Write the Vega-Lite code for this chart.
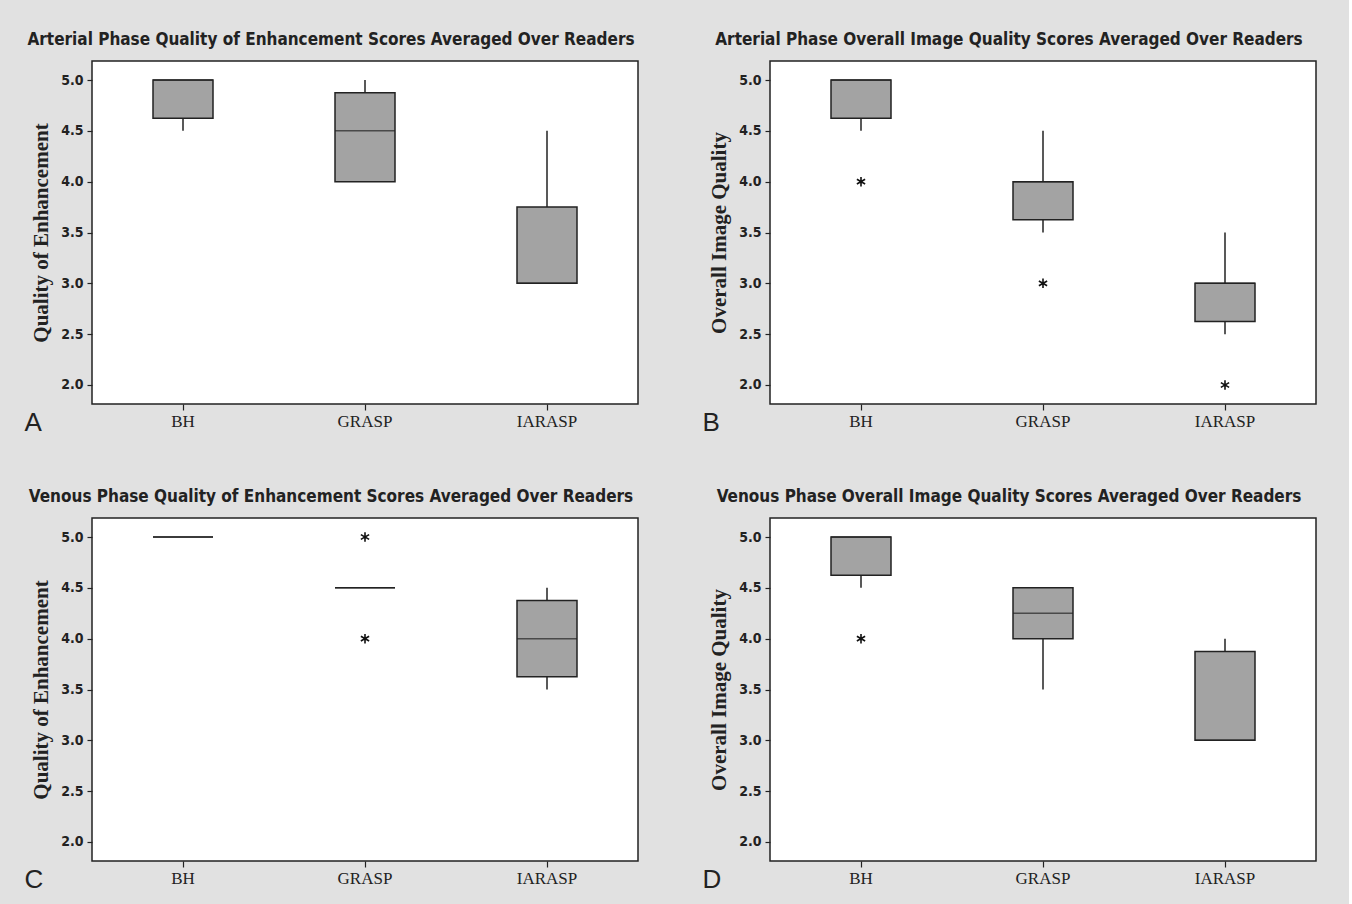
{
  "$schema": "https://vega.github.io/schema/vega-lite/v6.json",
  "padding": {"left": 23, "top": 30, "right": 32, "bottom": 20},
  "datasets": {
    "boxes": [
      {"panel": "A", "group": "BH", "lower": 4.5, "q1": 4.625, "median": 5.0, "q3": 5.0, "upper": 5.0},
      {"panel": "A", "group": "GRASP", "lower": 4.0, "q1": 4.0, "median": 4.5, "q3": 4.875, "upper": 5.0},
      {"panel": "A", "group": "IARASP", "lower": 3.0, "q1": 3.0, "median": 3.0, "q3": 3.75, "upper": 4.5},
      {"panel": "B", "group": "BH", "lower": 4.5, "q1": 4.625, "median": 5.0, "q3": 5.0, "upper": 5.0},
      {"panel": "B", "group": "GRASP", "lower": 3.5, "q1": 3.625, "median": 4.0, "q3": 4.0, "upper": 4.5},
      {"panel": "B", "group": "IARASP", "lower": 2.5, "q1": 2.625, "median": 3.0, "q3": 3.0, "upper": 3.5},
      {"panel": "C", "group": "BH", "lower": 5.0, "q1": 5.0, "median": 5.0, "q3": 5.0, "upper": 5.0},
      {"panel": "C", "group": "GRASP", "lower": 4.5, "q1": 4.5, "median": 4.5, "q3": 4.5, "upper": 4.5},
      {"panel": "C", "group": "IARASP", "lower": 3.5, "q1": 3.625, "median": 4.0, "q3": 4.375, "upper": 4.5},
      {"panel": "D", "group": "BH", "lower": 4.5, "q1": 4.625, "median": 5.0, "q3": 5.0, "upper": 5.0},
      {"panel": "D", "group": "GRASP", "lower": 3.5, "q1": 4.0, "median": 4.25, "q3": 4.5, "upper": 4.5},
      {"panel": "D", "group": "IARASP", "lower": 3.0, "q1": 3.0, "median": 3.0, "q3": 3.875, "upper": 4.0}
    ],
    "outliers": [
      {"panel": "B", "group": "BH", "value": 4.0},
      {"panel": "B", "group": "GRASP", "value": 3.0},
      {"panel": "B", "group": "IARASP", "value": 2.0},
      {"panel": "C", "group": "GRASP", "value": 5.0},
      {"panel": "C", "group": "GRASP", "value": 4.0},
      {"panel": "D", "group": "BH", "value": 4.0}
    ]
  },
  "columns": 2,
  "spacing": {"row": 114, "column": 132},
  "bounds": "flush",
  "concat": [
    {
      "width": 546, "height": 343,
      "title": "Arterial Phase Quality of Enhancement Scores Averaged Over Readers",
      "encoding": {"x": {"field": "group", "type": "nominal", "sort": ["BH", "GRASP", "IARASP"], "scale": {"paddingInner": 0, "paddingOuter": 0}, "axis": {"title": "A"}}},
      "layer": [
        {"data": {"name": "boxes"}, "transform": [{"filter": "datum.panel === 'A'"}], "mark": {"type": "rule", "color": "#222", "strokeWidth": 1.5},
         "encoding": {"y": {"field": "lower", "type": "quantitative", "scale": {"domain": [1.813, 5.187], "nice": false, "zero": false}, "axis": {"title": "Quality of Enhancement", "values": [2, 2.5, 3, 3.5, 4, 4.5, 5], "format": ".1f"}}, "y2": {"field": "upper"}}},
        {"data": {"name": "boxes"}, "transform": [{"filter": "datum.panel === 'A'"}], "mark": {"type": "bar", "size": 60, "fill": "#a3a3a3", "stroke": "#222", "strokeWidth": 1.5},
         "encoding": {"y": {"field": "q1", "type": "quantitative"}, "y2": {"field": "q3"}}},
        {"data": {"name": "boxes"}, "transform": [{"filter": "datum.panel === 'A'"}], "mark": {"type": "tick", "size": 60, "thickness": 1.5, "color": "#222"},
         "encoding": {"y": {"field": "median", "type": "quantitative"}}},
        {"data": {"name": "outliers"}, "transform": [{"filter": "datum.panel === 'A'"}], "mark": {"type": "point", "shape": "M0,-1L0,1M-0.87,-0.5L0.87,0.5M-0.87,0.5L0.87,-0.5", "filled": false, "stroke": "#111", "strokeWidth": 1.6, "size": 90, "opacity": 1},
         "encoding": {"y": {"field": "value", "type": "quantitative"}}}
      ]
    },
    {
      "width": 546, "height": 343,
      "title": "Arterial Phase Overall  Image Quality Scores Averaged Over Readers",
      "encoding": {"x": {"field": "group", "type": "nominal", "sort": ["BH", "GRASP", "IARASP"], "scale": {"paddingInner": 0, "paddingOuter": 0}, "axis": {"title": "B"}}},
      "layer": [
        {"data": {"name": "boxes"}, "transform": [{"filter": "datum.panel === 'B'"}], "mark": {"type": "rule", "color": "#222", "strokeWidth": 1.5},
         "encoding": {"y": {"field": "lower", "type": "quantitative", "scale": {"domain": [1.813, 5.187], "nice": false, "zero": false}, "axis": {"title": "Overall  Image Quality", "values": [2, 2.5, 3, 3.5, 4, 4.5, 5], "format": ".1f"}}, "y2": {"field": "upper"}}},
        {"data": {"name": "boxes"}, "transform": [{"filter": "datum.panel === 'B'"}], "mark": {"type": "bar", "size": 60, "fill": "#a3a3a3", "stroke": "#222", "strokeWidth": 1.5},
         "encoding": {"y": {"field": "q1", "type": "quantitative"}, "y2": {"field": "q3"}}},
        {"data": {"name": "boxes"}, "transform": [{"filter": "datum.panel === 'B'"}], "mark": {"type": "tick", "size": 60, "thickness": 1.5, "color": "#222"},
         "encoding": {"y": {"field": "median", "type": "quantitative"}}},
        {"data": {"name": "outliers"}, "transform": [{"filter": "datum.panel === 'B'"}], "mark": {"type": "point", "shape": "M0,-1L0,1M-0.87,-0.5L0.87,0.5M-0.87,0.5L0.87,-0.5", "filled": false, "stroke": "#111", "strokeWidth": 1.6, "size": 90, "opacity": 1},
         "encoding": {"y": {"field": "value", "type": "quantitative"}}}
      ]
    },
    {
      "width": 546, "height": 343,
      "title": "Venous Phase Quality of Enhancement Scores Averaged Over Readers",
      "encoding": {"x": {"field": "group", "type": "nominal", "sort": ["BH", "GRASP", "IARASP"], "scale": {"paddingInner": 0, "paddingOuter": 0}, "axis": {"title": "C"}}},
      "layer": [
        {"data": {"name": "boxes"}, "transform": [{"filter": "datum.panel === 'C'"}], "mark": {"type": "rule", "color": "#222", "strokeWidth": 1.5},
         "encoding": {"y": {"field": "lower", "type": "quantitative", "scale": {"domain": [1.813, 5.187], "nice": false, "zero": false}, "axis": {"title": "Quality of Enhancement", "values": [2, 2.5, 3, 3.5, 4, 4.5, 5], "format": ".1f"}}, "y2": {"field": "upper"}}},
        {"data": {"name": "boxes"}, "transform": [{"filter": "datum.panel === 'C'"}], "mark": {"type": "bar", "size": 60, "fill": "#a3a3a3", "stroke": "#222", "strokeWidth": 1.5},
         "encoding": {"y": {"field": "q1", "type": "quantitative"}, "y2": {"field": "q3"}}},
        {"data": {"name": "boxes"}, "transform": [{"filter": "datum.panel === 'C'"}], "mark": {"type": "tick", "size": 60, "thickness": 1.5, "color": "#222"},
         "encoding": {"y": {"field": "median", "type": "quantitative"}}},
        {"data": {"name": "outliers"}, "transform": [{"filter": "datum.panel === 'C'"}], "mark": {"type": "point", "shape": "M0,-1L0,1M-0.87,-0.5L0.87,0.5M-0.87,0.5L0.87,-0.5", "filled": false, "stroke": "#111", "strokeWidth": 1.6, "size": 90, "opacity": 1},
         "encoding": {"y": {"field": "value", "type": "quantitative"}}}
      ]
    },
    {
      "width": 546, "height": 343,
      "title": "Venous Phase Overall  Image Quality Scores Averaged Over Readers",
      "encoding": {"x": {"field": "group", "type": "nominal", "sort": ["BH", "GRASP", "IARASP"], "scale": {"paddingInner": 0, "paddingOuter": 0}, "axis": {"title": "D"}}},
      "layer": [
        {"data": {"name": "boxes"}, "transform": [{"filter": "datum.panel === 'D'"}], "mark": {"type": "rule", "color": "#222", "strokeWidth": 1.5},
         "encoding": {"y": {"field": "lower", "type": "quantitative", "scale": {"domain": [1.813, 5.187], "nice": false, "zero": false}, "axis": {"title": "Overall  Image Quality", "values": [2, 2.5, 3, 3.5, 4, 4.5, 5], "format": ".1f"}}, "y2": {"field": "upper"}}},
        {"data": {"name": "boxes"}, "transform": [{"filter": "datum.panel === 'D'"}], "mark": {"type": "bar", "size": 60, "fill": "#a3a3a3", "stroke": "#222", "strokeWidth": 1.5},
         "encoding": {"y": {"field": "q1", "type": "quantitative"}, "y2": {"field": "q3"}}},
        {"data": {"name": "boxes"}, "transform": [{"filter": "datum.panel === 'D'"}], "mark": {"type": "tick", "size": 60, "thickness": 1.5, "color": "#222"},
         "encoding": {"y": {"field": "median", "type": "quantitative"}}},
        {"data": {"name": "outliers"}, "transform": [{"filter": "datum.panel === 'D'"}], "mark": {"type": "point", "shape": "M0,-1L0,1M-0.87,-0.5L0.87,0.5M-0.87,0.5L0.87,-0.5", "filled": false, "stroke": "#111", "strokeWidth": 1.6, "size": 90, "opacity": 1},
         "encoding": {"y": {"field": "value", "type": "quantitative"}}}
      ]
    }
  ],
  "config": {
    "background": "#e1e1e1",
    "view": {"fill": "white", "stroke": "#222", "strokeWidth": 1.5},
    "axis": {"grid": false, "domain": false, "tickColor": "#222", "labelColor": "#222", "titleColor": "#222", "tickWidth": 1.2},
    "axisY": {"labelFont": "DejaVu Sans Condensed, Open Sans", "labelFontSize": 14, "labelFontWeight": "bold", "tickSize": 5, "labelPadding": 4, "titleFont": "Liberation Serif", "titleFontSize": 21, "titleFontWeight": "bold", "titlePadding": 9},
    "axisX": {"labelFont": "Liberation Serif", "labelFontSize": 17, "labelFontWeight": "normal", "tickSize": 6, "labelPadding": 3, "labelAngle": 0, "titleFont": "Liberation Sans", "titleFontSize": 26, "titleFontWeight": "normal", "titleAnchor": "start", "titleAlign": "left", "titleX": -68, "titleY": 26, "titleBaseline": "alphabetic"},
    "title": {"font": "DejaVu Sans Condensed, Open Sans", "fontSize": 17, "fontWeight": "bold", "anchor": "middle", "frame": "bounds", "offset": 12, "color": "#222"}
  }
}
